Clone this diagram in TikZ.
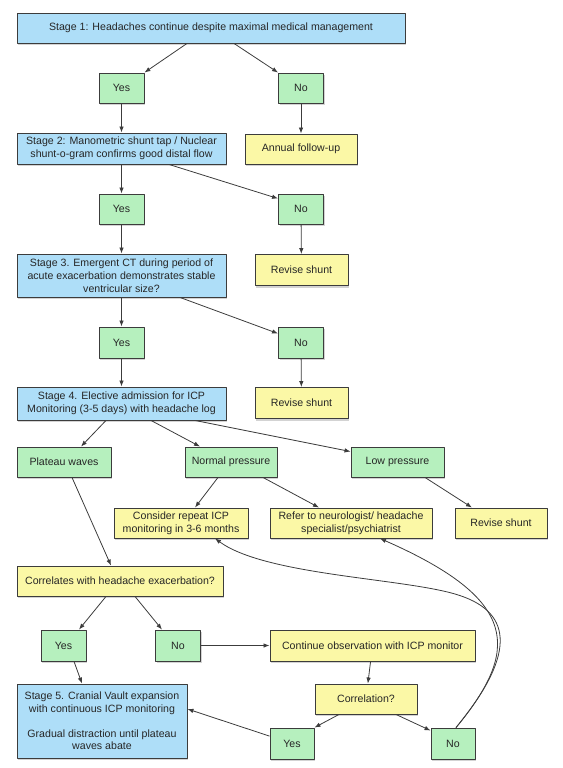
\documentclass[tikz,border=0pt]{standalone}
\usepackage{fontspec}
\setmainfont{Liberation Sans}
\usetikzlibrary{shadows,arrows.meta}
\definecolor{boxblue}{HTML}{AEDEF8}
\definecolor{boxgreen}{HTML}{B6F0BE}
\definecolor{boxyellow}{HTML}{FBF8A6}
\definecolor{edgegray}{HTML}{3C3C3C}
\begin{document}
\begin{tikzpicture}[x=1pt, y=-1pt, font=\fontsize{10.6}{12.8}\selectfont, line join=round, >={Latex[length=6pt,width=4.5pt]},
	box/.style={draw=edgegray, line width=0.9pt, align=center, inner sep=2pt, minimum height=30pt, text=black!85,
		drop shadow={opacity=0.35, shadow xshift=1pt, shadow yshift=-2pt}},
	bbox/.style={box, fill=boxblue},
	gbox/.style={box, fill=boxgreen, minimum width=45pt},
	ybox/.style={box, fill=boxyellow},
	link/.style={->, draw=edgegray, line width=0.8pt}]
	\useasboundingbox (0,0) rectangle (562,768);
	% stages 1 to 4
	\node[bbox, minimum width=388pt] (stage1) at (211,28) {Stage 1: Headaches continue despite maximal medical management};
	\node[gbox] (yes1) at (121.5,88) {Yes};
	\node[gbox] (no1) at (301,88) {No};
	\node[bbox, minimum width=209pt, minimum height=31pt] (stage2) at (121.5,148.5) {Stage 2: Manometric shunt tap / Nuclear\\shunt-o-gram confirms good distal flow};
	\node[ybox, minimum width=112pt] (annual) at (301,149) {Annual follow-up};
	\node[gbox] (yes2) at (121.5,209) {Yes};
	\node[gbox] (no2) at (301,209) {No};
	\node[bbox, minimum width=209pt, minimum height=43pt] (stage3) at (121.5,275.5) {Stage 3. Emergent CT during period of\\acute exacerbation demonstrates stable\\ventricular size?};
	\node[ybox, minimum width=93pt, minimum height=31pt] (revise1) at (301.5,270) {Revise shunt};
	\node[gbox, minimum height=31pt] (yes3) at (121.5,342.5) {Yes};
	\node[gbox, minimum height=31pt] (no3) at (301,342.5) {No};
	\node[bbox, minimum width=209pt, minimum height=33pt] (stage4) at (121.5,403.5) {Stage 4. Elective admission for ICP\\Monitoring (3-5 days) with headache log};
	\node[ybox, minimum width=93pt, minimum height=31pt] (revise2) at (301.5,403) {Revise shunt};
	% ICP findings
	\node[gbox, minimum width=94pt] (plateau) at (64,462) {Plateau waves};
	\node[gbox, minimum width=92pt] (normal) at (231,462) {Normal pressure};
	\node[gbox, minimum width=93pt] (low) at (397.5,462) {Low pressure};
	\node[ybox, minimum width=134pt] (consider) at (181,523) {Consider repeat ICP\\monitoring in 3-6 months};
	\node[ybox, minimum width=162pt] (refer) at (351,523) {Refer to neurologist/ headache\\specialist/psychiatrist};
	\node[ybox, minimum width=92pt] (revise3) at (501,523) {Revise shunt};
	\node[ybox, minimum width=206pt] (correlates) at (120,581) {Correlates with headache exacerbation?};
	\node[gbox, minimum height=31pt] (yesA) at (63.5,645.5) {Yes};
	\node[gbox, minimum height=31pt] (noA) at (178,645.5) {No};
	\node[ybox, minimum width=205pt, minimum height=31pt] (continue) at (372.5,645.5) {Continue observation with ICP monitor};
	\node[bbox, minimum width=170pt, minimum height=74pt] (stage5) at (102,721) {Stage 5. Cranial Vault expansion\\with continuous ICP monitoring\\[12pt]Gradual distraction until plateau\\waves abate};
	\node[ybox, minimum width=102pt] (correlation) at (366,699) {Correlation?};
	\node[gbox, minimum width=44pt, minimum height=31pt] (yesB) at (292,743.5) {Yes};
	\node[gbox, minimum width=44pt, minimum height=31pt] (noB) at (453,743.5) {No};
	% connectors
	\draw[link] ([xshift=-24pt]stage1.south) -- (yes1.north east);
	\draw[link] ([xshift=23pt]stage1.south) -- (no1.north west);
	\draw[link] (yes1) -- (stage2);
	\draw[link] (no1) -- (annual);
	\draw[link] (stage2) -- (yes2);
	\draw[link] ([xshift=47.5pt]stage2.south) -- ([yshift=-5pt]no2.north west);
	\draw[link] (yes2) -- (stage3);
	\draw[link] (no2) -- (revise1);
	\draw[link] (stage3) -- (yes3);
	\draw[link] ([xshift=58.5pt]stage3.south) -- ([yshift=-7pt]no3.north west);
	\draw[link] (yes3) -- (stage4);
	\draw[link] (no3) -- (revise2);
	\draw[link] ([xshift=-15.5pt]stage4.south) -- ([xshift=17pt]plateau.north);
	\draw[link] ([xshift=29.5pt]stage4.south) -- ([xshift=-31pt]normal.north);
	\draw[link] ([xshift=73.5pt]stage4.south) -- ([yshift=-5pt]low.north west);
	\draw[link] ([xshift=-13pt]normal.south) -- ([xshift=14pt]consider.north);
	\draw[link] ([xshift=32pt]normal.south) -- ([xshift=-32pt]refer.north);
	\draw[link] ([xshift=27.5pt]low.south) -- ([xshift=-29pt]revise3.north);
	\draw[link] ([xshift=8pt]plateau.south) -- ([xshift=-9pt]correlates.north);
	\draw[link] ([xshift=-14pt]correlates.south) -- ([xshift=15.5pt]yesA.north);
	\draw[link] ([xshift=15pt]correlates.south) -- ([xshift=-16pt]noA.north);
	\draw[link] ([xshift=10.5pt]yesA.south) -- ([xshift=-20pt]stage5.north);
	\draw[link] (noA) -- (continue);
	\draw[link] (continue) -- (correlation);
	\draw[link] ([xshift=-27pt]correlation.south) -- (yesB.north east);
	\draw[link] ([xshift=30pt]correlation.south) -- ([yshift=-3pt]noB.north west);
	\draw[link] (yesB) -- ([yshift=12pt]stage5.east);
	\draw[link] ([xshift=3pt]noB.north) .. controls (520,650) and (520,600) .. ([xshift=29pt]refer.south);
	\draw[link] ([xshift=3pt]noB.north) .. controls (520,650) and (510,610) .. (455,594) .. controls (400,578) and (265,575) .. ([xshift=34pt]consider.south);
\end{tikzpicture}
\end{document}
